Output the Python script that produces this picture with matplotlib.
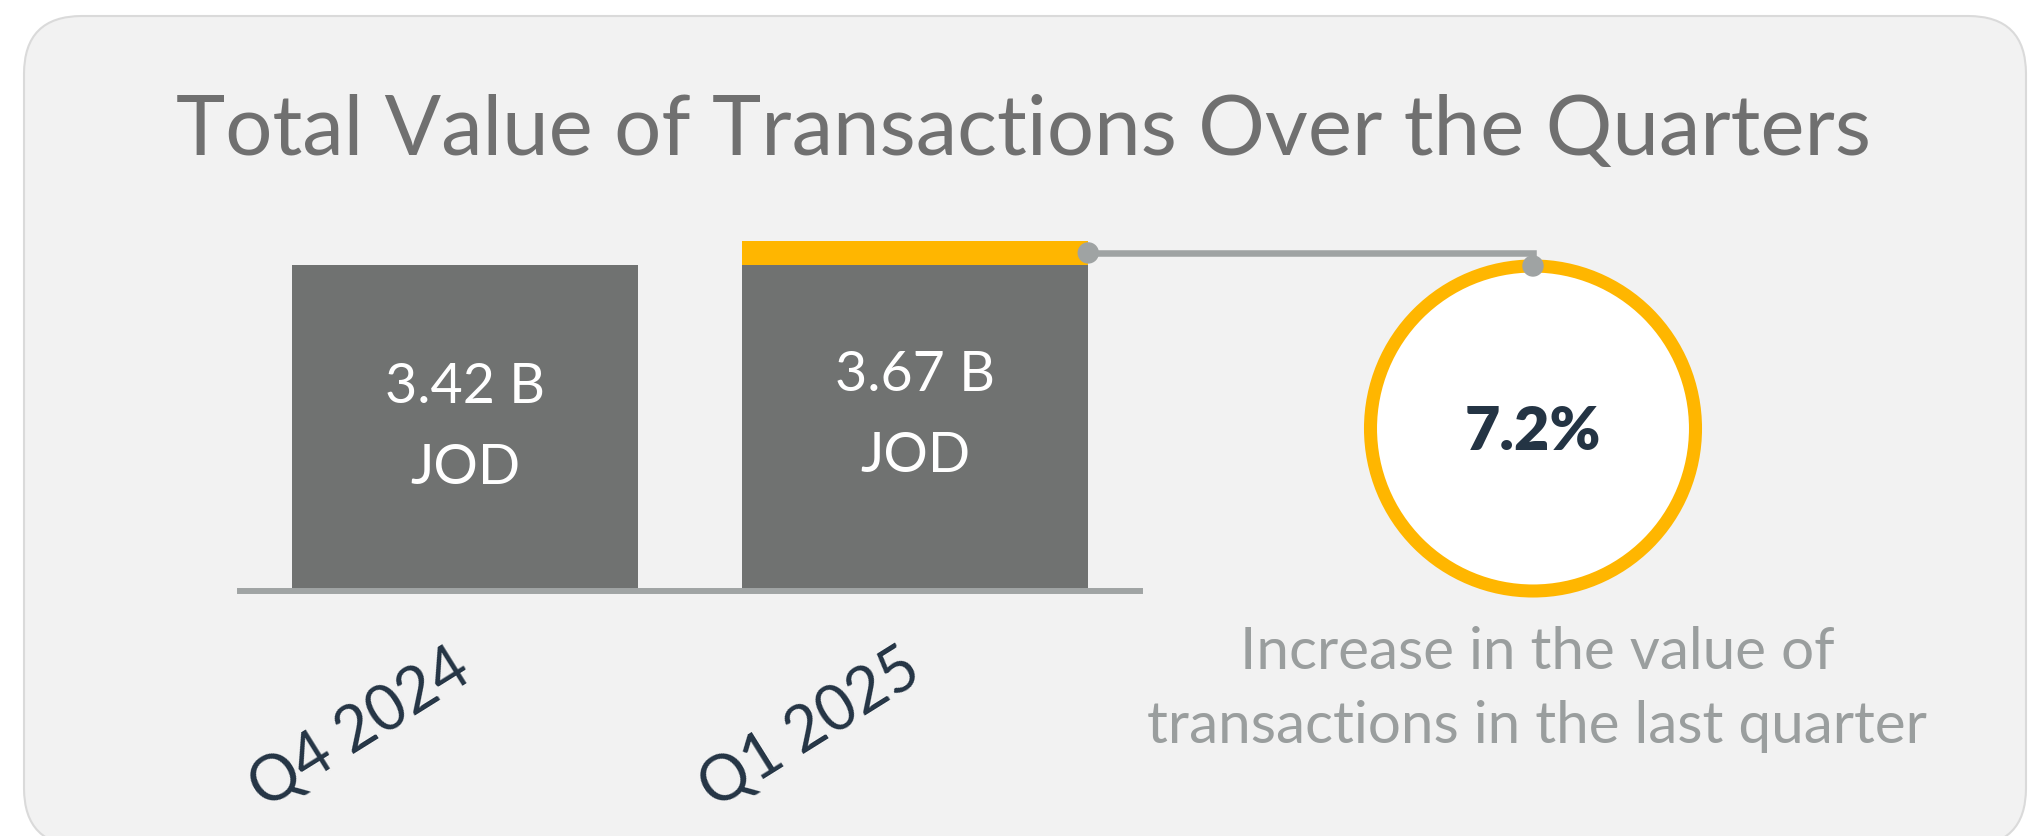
import matplotlib.pyplot as plt
from matplotlib.patches import Circle, FancyBboxPatch

# quarterly totals, billions JOD
quarters = ["Q4 2024", "Q1 2025"]
totals = [3.42, 3.67]
change_label = "7.2%"
caption_lines = ["Increase in the value of", "transactions in the last quarter"]
title = "Total Value of Transactions Over the Quarters"

BAR_GRAY = "#707271"
PANEL = "#f2f2f2"
BORDER = "#dadada"
TITLE_GRAY = "#707070"
YELLOW = "#ffb600"
LINK_GRAY = "#9fa3a3"
NAVY = "#243444"
CAPTION_GRAY = "#9a9e9e"
FONT = "Lato"

W, H, DPI = 2032, 836, 100
fig = plt.figure(figsize=(W / DPI, H / DPI), dpi=DPI, facecolor="white")


def pixel_axes(zorder):
    # full-figure axes in pixel units, origin at the top-left corner
    a = fig.add_axes([0, 0, 1, 1], zorder=zorder)
    a.set_xlim(0, W)
    a.set_ylim(H, 0)
    a.axis("off")
    a.patch.set_alpha(0)
    return a


bg = pixel_axes(0)
bg.add_patch(FancyBboxPatch((24, 16), 2002, 830, boxstyle="round,pad=0,rounding_size=58",
                            facecolor=PANEL, edgecolor=BORDER, linewidth=1.5))
bg.text(1024, 155, title, ha="center", va="baseline", fontsize=60,
        color=TITLE_GRAY, family=FONT)

# bar chart
ax = fig.add_axes([240 / W, (H - 591) / H, 900 / W, 391 / H], zorder=1)
ax.patch.set_alpha(0)
base = min(totals)
x = list(range(len(quarters)))
bar_w = 0.77
ax.bar(x, [base] * len(x), width=bar_w, color=BAR_GRAY, zorder=1)
ax.bar(x[-1], totals[-1] - base, bottom=base, width=bar_w, color=YELLOW, zorder=1)
for i, v in zip(x, totals):
    ax.text(i, v / 2, f"{v:.2f} B\nJOD", ha="center", va="center", color="white",
            fontsize=40, family=FONT, linespacing=1.75, zorder=3)
ax.set_xlim(-0.5, 1.5)
ax.set_ylim(0, 4.1)
for side in ("top", "left", "right"):
    ax.spines[side].set_visible(False)
ax.spines["bottom"].set_color("#a0a4a4")
ax.spines["bottom"].set_linewidth(4.3)
ax.spines["bottom"].set_zorder(2)
ax.set_yticks([])
ax.set_xticks(x)
for lbl in ax.set_xticklabels(quarters, fontsize=45, color=NAVY, family=FONT):
    lbl.set(rotation=32, ha="right", va="center", rotation_mode="anchor")
ax.tick_params(axis="x", length=0, pad=52)

# change badge linked to the top of the latest bar
fg = pixel_axes(2)
cx, cy, r = 1533, 428.5, 162.5
fg.add_patch(Circle((cx, cy), r, facecolor="white", edgecolor=YELLOW, linewidth=9.4))

x0, y0 = ax.transData.transform((x[-1] + bar_w / 2, (base + totals[-1]) / 2))
y0 = H - y0
fg.plot([x0, cx, cx], [y0, y0, cy - r], color=LINK_GRAY, linewidth=4.7,
        solid_joinstyle="miter")
for px, py in ((x0, y0), (cx, cy - r)):
    fg.add_patch(Circle((px, py), 10, color=LINK_GRAY, zorder=3))

fg.text(cx, 450, change_label, ha="center", va="baseline", fontsize=44,
        color=NAVY, family=FONT, fontweight="heavy")
for k, line in enumerate(caption_lines):
    fg.text(cx + 4, 669 + 74 * k, line, ha="center", va="baseline", fontsize=42,
            color=CAPTION_GRAY, family=FONT)

fig.savefig("out.png", dpi=DPI)
